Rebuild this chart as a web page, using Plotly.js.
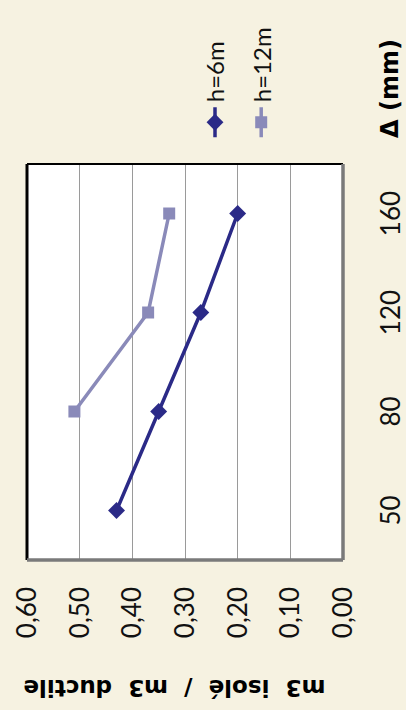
<!DOCTYPE html>
<html>
<head>
<meta charset="utf-8">
<script src="https://cdn.plot.ly/plotly-3.0.1.min.js"></script>
<style>
  html, body { margin: 0; padding: 0; width: 406px; height: 710px; overflow: hidden; background: #F6F2E1; }
  #chart { position: absolute; left: 0; top: 0; width: 710px; height: 406px;
           transform-origin: 0 0; transform: translate(0px, 710px) rotate(-90deg); }
</style>
</head>
<body>
<div id="chart"></div>
<script>
// Data
const deltaLabels = ['50', '80', '120', '160'];
const seriesNames = ['h=6m', 'h=12m'];
const ratioH6 = [0.43, 0.35, 0.27, 0.20];
const ratioH12 = [null, 0.51, 0.37, 0.33];
const yTitle = 'm3 isolé / m3 ductile';
const xTitle = 'Δ (mm)';

const FONT = 'Lato, "DejaVu Sans", sans-serif';
const TITLE_FONT = '"DejaVu Sans", sans-serif';
const darkBlue = '#2B2A87';
const lightBlue = '#8A8AB9';

const traces = [
  { x: deltaLabels, y: ratioH6, name: seriesNames[0], type: 'scatter', mode: 'lines+markers',
    line: { color: darkBlue, width: 3.5 }, marker: { symbol: 'diamond', size: 13, color: darkBlue },
    legendgroup: 'a', cliponaxis: false },
  { x: deltaLabels, y: ratioH12, name: seriesNames[1], type: 'scatter', mode: 'lines+markers',
    line: { color: lightBlue, width: 3.5 }, marker: { symbol: 'square', size: 12, color: lightBlue },
    legendgroup: 'b', connectgaps: false, cliponaxis: false }
];

const layout = {
  width: 710, height: 406,
  margin: { l: 150, r: 164, t: 27, b: 63 },
  paper_bgcolor: '#F6F2E1',
  plot_bgcolor: '#FFFFFF',
  separators: ', ',
  font: { family: FONT, size: 26, color: '#111' },
  showlegend: true,
  legend: { x: 1.055, xanchor: 'left', y: 0.475, yanchor: 'top', orientation: 'v',
            bgcolor: 'rgba(0,0,0,0)', font: { family: FONT, size: 24, color: '#111' },
            tracegroupgap: 12, itemwidth: 30 },
  xaxis: { type: 'category', range: [-0.5, 3.5], showgrid: false, zeroline: false,
           ticks: '', ticklabelstandoff: 30, tickfont: { family: FONT, size: 26 }, fixedrange: true },
  yaxis: { range: [0, 0.6], dtick: 0.1, tickformat: '.2f', showgrid: true, gridcolor: '#9A9A9A',
           gridwidth: 1, zeroline: false, ticks: '', ticklabelstandoff: 26,
           tickfont: { family: FONT, size: 26 }, fixedrange: true },
  shapes: [
    // frame: dark on top/right, grey shadow on bottom/left (as in the rotated reference)
    { type: 'line', xref: 'paper', yref: 'paper', x0: 0, x1: 1, y0: 1, y1: 1,
      line: { color: '#000', width: 3 } },
    { type: 'line', xref: 'paper', yref: 'paper', x0: 1, x1: 1, y0: 0, y1: 1,
      line: { color: '#000', width: 2 } },
    { type: 'line', xref: 'paper', yref: 'paper', x0: 0, x1: 1, y0: 0, y1: 0,
      line: { color: '#7A7A7A', width: 3.5 } },
    { type: 'line', xref: 'paper', yref: 'paper', x0: 0, x1: 0, y0: 0, y1: 1,
      line: { color: '#7A7A7A', width: 3.5 } }
  ],
  annotations: [
    { text: '<b>' + yTitle.split(' ').join('&nbsp; ') + '</b>', xref: 'paper', yref: 'paper',
      x: -0.36, y: 0.535, textangle: -90, showarrow: false,
      font: { family: TITLE_FONT, size: 23, color: '#000' } },
    { text: '<b>' + xTitle + '</b>', xref: 'paper', yref: 'paper', x: 1.06, xanchor: 'left',
      y: -0.198, showarrow: false, font: { family: TITLE_FONT, size: 24, color: '#000' } }
  ]
};

Plotly.newPlot('chart', traces, layout, { staticPlot: true, displayModeBar: false });
</script>
</body>
</html>
